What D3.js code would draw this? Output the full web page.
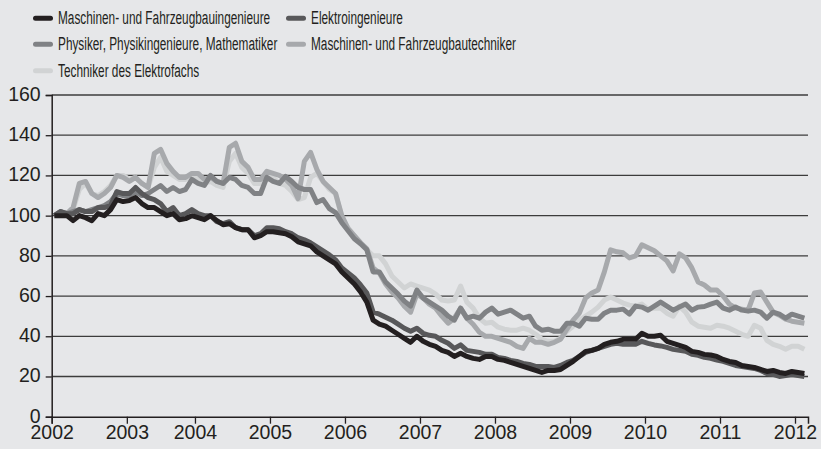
<!DOCTYPE html>
<html>
<head>
<meta charset="utf-8">
<script src="https://cdn.jsdelivr.net/npm/d3@7"></script>
<style>
  html, body { margin: 0; padding: 0; background: #e6e7e9; }
  svg { display: block; }
</style>
</head>
<body>
<svg id="chart" width="821" height="449"></svg>
<script>
// ---- data (index 2002 = 100), monthly, Feb 2002 .. Feb 2012 ----
const seriesNames = [
  "Maschinen- und Fahrzeugbauingenieure",
  "Elektroingenieure",
  "Physiker, Physikingenieure, Mathematiker",
  "Maschinen- und Fahrzeugbautechniker",
  "Techniker des Elektrofachs"
];
const maschIng = [100,100,100,97.5,100,99,97.5,101,100,103,108,107,107.5,109,106,104,104,102,100,101,98,98.5,100,99,98,100,97.5,95.5,96,94,93,93,89,90,92,92,91.5,
  91,89.5,87,86,85,82,80,78,76,72,69,66,62,57,48,46,45,43,41,39,37,40,37.5,36,35,33,32,30,31.5,30,29,28.5,30,30,28.5,28,27,26,25,24,23,
  22,23,23,23.5,25.5,27.5,30,32.5,33,34,36,37,37.5,38.5,38.5,38.5,41.5,40,40,40.5,37.5,36.5,35.5,34.5,32.5,32,31,30.7,30,28.5,27.5,27,25.5,25,24.5,23.5,22.5,23,22,21.5,22.5,22,21.5];
const elektroIng = [100,102,101,101,103,102,102,104,104,105,112,111,111,114,111,109,108,106,102,104,100,101,103,101,100,100,97,96,97,94,93,93,90,91,94,94,93.5,
  92,91,89,88,86.5,84.5,82.5,80.5,78,74,71.5,69,65.5,61.5,52,51,49.5,48,46,44,42.5,44,41.5,40.5,40,38,36.5,34,35.7,33,32.5,32,31,31,29.5,29,28,27.5,26.5,26,25,
  25,25,24.5,25.5,27,28,30,32,33,34,35,36,36.5,36,36,36,37.5,36.5,35.7,35.2,34.5,33.5,33,32.5,31,30.5,29.5,29,28.2,27.5,26.5,25.5,25,24.5,24,23,21.5,21,20,20.5,21,20.5,20];
const physiker = [100,102,101,102,103,102,103,104,105,107,111,110,110,112,110,111,113,115,112,114,112,113,118,116,115,120,117,116,119,118,115,114,111,111,119,117,116,
  119.5,117,114,113,113,106.5,108,103.5,101.5,96.5,92.5,88.5,86,83,72,72,67,64,61,57.5,55,63,59,57,55,53,50,48,54,49,50,49,52,54,51,52,53,51,49,50,45,
  43,43.5,42.5,42.5,46.5,46.5,45,49,48.5,48.5,51.5,53,53,53.5,51,55,54.5,53,55,57,55,53,54.5,56,53,54.5,54.8,56,57,54,53,54.5,53,52.5,53,52,49,52,51,49,51,50,49];
const maschTech = [100,102,101,104,116,117,111,109,111,114,120,119,117,119,116,114,131,133,126,122,119,119,121,121,118,119,117,116,134,136,127,124,118,118,122,121,120,
  118,115,108.5,127,131.5,123,117,114,111,100,93.5,90,86.5,83.5,74,71.5,66,62,59,55,52,61,59,56,54,50,46.5,49,54,49,46,42,40,40,39,38,37,35,34,39,37,
  37,36,37,38.5,43.5,48,51.5,59,61.5,63,72,83,82,81.5,79,80,85.5,84,82.5,80,77.5,72.5,81,79,74,67,65.5,63,63,60,56,54,53.5,53,61.5,62,57,52,50.5,48.5,47.5,47,46.5];
const elektroTech = [100,101,100,103,113,116,111,110,112,115,120,120,118,119,116,114,124,129,122,120,118,118,120,119,116,117,115,114,127,131,124,121,116,116,120,119,116,
  115,112,108,109,119,121,117,113,111,99,94,90,86,83,80,80,76,70,67,64,66,65,64,63,61,58,57.5,58,65,57,54,49,46.5,47,44.5,43.5,43,43,44,43,41,
  38.5,37.5,37.5,39,42.5,45,48,50,52,54.5,58,59.5,58,56.5,55.5,55,56,53.5,54,54,51.5,50,55,52,47,45,44.5,44,45.5,45,44,42.5,41,40,45.5,44,38,36,35,33.5,35,35,33.5];

const yTicks = [0, 20, 40, 60, 80, 100, 120, 140, 160];
const yearLabels = ["2002","2003","2004","2005","2006","2007","2008","2009","2010","2011","2012"];
// tick positions in month-index units (0 = Feb 2002)
const yearTickIdx = [-0.42, 11.6, 22.5, 34.5, 46.5, 58.5, 70.5, 82.5, 94.5, 106.5, 118.5];

// ---- styles ----
const colors = ["#231f20", "#58585a", "#808285", "#a7a9ac", "#d1d3d4"];
const allSeries = [maschIng, elektroIng, physiker, maschTech, elektroTech];
const months = d3.timeMonths(new Date(2002, 1, 1), new Date(2012, 2, 1));

const svg = d3.select("#chart");
const plotLeft = 51.7, plotRight = 808, plotTop = 95, plotBottom = 416.7;

const x = d3.scaleLinear().domain([-0.42, 120.58]).range([plotLeft, plotRight]);
const y = d3.scaleLinear().domain([0, 160]).range([plotBottom, plotTop]);

// gridlines
svg.append("g")
  .selectAll("line").data(yTicks.filter(d => d > 0)).join("line")
  .attr("x1", plotLeft).attr("x2", plotRight)
  .attr("y1", d => y(d)).attr("y2", d => y(d))
  .attr("stroke", "#3c3c3c").attr("stroke-width", 1.3);

// y axis
const yAxis = svg.append("g").attr("transform", `translate(${plotLeft},0)`)
  .call(d3.axisLeft(y).tickValues(yTicks).tickSize(6).tickPadding(5));
yAxis.select(".domain").attr("stroke", "#231f20").attr("stroke-width", 1.5);
yAxis.selectAll(".tick line").attr("stroke", "#231f20").attr("stroke-width", 1.3);
yAxis.selectAll(".tick text")
  .attr("font-family", "'Liberation Sans', Arial, sans-serif")
  .attr("font-size", 19.5).attr("fill", "#231f20")
  .attr("dy", "0.28em");

// x axis
const xAxis = svg.append("g").attr("transform", `translate(0,${plotBottom})`)
  .call(d3.axisBottom(x).tickValues(yearTickIdx)
    .tickFormat((d, i) => yearLabels[i]).tickSize(7).tickPadding(1));
xAxis.select(".domain").attr("stroke", "#231f20").attr("stroke-width", 1.5);
xAxis.selectAll(".tick line").attr("stroke", "#231f20").attr("stroke-width", 1.3);
xAxis.selectAll(".tick text")
  .attr("font-family", "'Liberation Sans', Arial, sans-serif")
  .attr("font-size", 19.5).attr("fill", "#231f20");

// lines (draw lightest first, black on top)
const line = d3.line().x((d, i) => x(i)).y(d => y(d));
const order = [4, 3, 2, 1, 0];
svg.append("g").selectAll("path").data(order).join("path")
  .attr("d", k => line(allSeries[k]))
  .attr("fill", "none")
  .attr("stroke", k => colors[k])
  .attr("stroke-width", 5)
  .attr("stroke-linejoin", "round");

// legend
const legendPos = [[33, 18.3], [286, 18.3], [33, 44.3], [286, 44.3], [33, 70.8]];
const lg = svg.append("g");
seriesNames.forEach((name, k) => {
  const [lx, ly] = legendPos[k];
  lg.append("line")
    .attr("x1", lx + 2.5).attr("x2", lx + 17.5).attr("y1", ly).attr("y2", ly)
    .attr("stroke", colors[k]).attr("stroke-width", 5).attr("stroke-linecap", "round");
  lg.append("text")
    .attr("transform", `translate(${lx + 25},${ly + 6}) scale(0.65,1)`)
    .attr("font-family", "'Liberation Sans', Arial, sans-serif")
    .attr("font-size", 18.2).attr("fill", "#231f20")
    .text(name);
});
</script>
</body>
</html>
